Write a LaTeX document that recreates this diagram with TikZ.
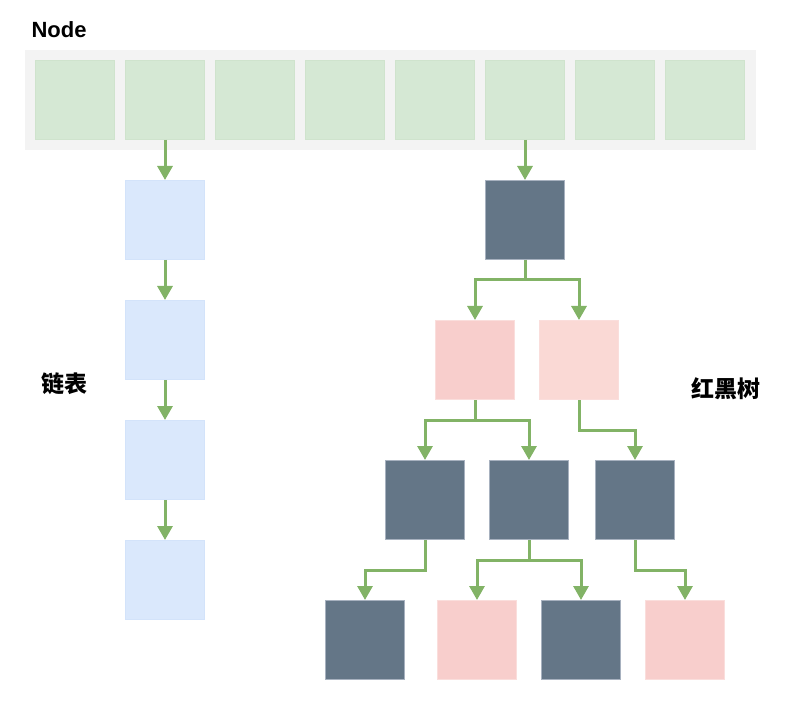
\documentclass[tikz,border=0pt]{standalone}
\usepackage{fontspec}
\setmainfont{Liberation Sans}
\newfontfamily\cjk{Noto Sans CJK SC}
\usetikzlibrary{arrows.meta}
\definecolor{bargray}{HTML}{F3F3F3}
\definecolor{cellgreen}{HTML}{D5E8D4}
\definecolor{cellgreenline}{HTML}{CFE3CD}
\definecolor{listblue}{HTML}{DAE8FC}
\definecolor{listblueline}{HTML}{D3E3FA}
\definecolor{darkslate}{HTML}{647687}
\definecolor{darkslateline}{HTML}{A7B1BF}
\definecolor{redpink}{HTML}{F8CECC}
\definecolor{redpinkline}{HTML}{FADEDC}
\definecolor{lightpink}{HTML}{FAD9D5}
\definecolor{arrowgreen}{HTML}{82B366}
\tikzstyle{cell}=[rectangle,draw=cellgreenline,fill=cellgreen,line width=1pt,minimum size=79pt,inner sep=0pt]
\tikzstyle{listnode}=[rectangle,draw=listblueline,fill=listblue,line width=1pt,minimum size=79pt,inner sep=0pt]
\tikzstyle{blacknode}=[rectangle,draw=darkslateline,fill=darkslate,line width=1pt,minimum size=79pt,inner sep=0pt]
\tikzstyle{rednode}=[rectangle,draw=redpinkline,fill=redpink,line width=1pt,minimum size=79pt,inner sep=0pt]
\tikzstyle{edge} = [draw,arrowgreen,line width=3pt,-{Triangle[width=15pt,length=14pt]}]
\tikzstyle{title} = [font=\bfseries\fontsize{22}{26}\selectfont]
\tikzstyle{cjktitle} = [font=\cjk\bfseries\fontsize{23}{27}\selectfont]

\begin{document}
\begin{tikzpicture}[x=1pt,y=-1pt]
    \useasboundingbox (0,0) rectangle (795,703);
    % The table of Node cells
    \node[title,anchor=west] (nodetitle) at (28,30) {Node};
    \fill[bargray] (25,50) rectangle (756,150);
    \foreach \i in {1,...,8}
        \node[cell] (c\i) at ({75+90*(\i-1)},100) {};

    % The linked list
    \foreach \pos/ \name in {{(165,220)/l1},{(165,340)/l2},{(165,460)/l3},{(165,580)/l4}}
        \node[listnode] (\name) at \pos {};
    \node[cjktitle] (listtitle) at (64,384) {链表};

    \foreach \source/ \dest in {c2/l1, l1/l2, l2/l3, l3/l4}
        \path[edge] (\source.south) -- (\dest.north);

    % The red-black tree
    \foreach \pos/ \name in {{(525,220)/r},{(425,500)/c},{(529,500)/d},{(635,500)/e},{(365,640)/f},{(581,640)/h}}
        \node[blacknode] (\name) at \pos {};
    \foreach \pos/ \name in {{(475,360)/a},{(477,640)/g},{(685,640)/k}}
        \node[rednode] (\name) at \pos {};
    \node[rednode,fill=lightpink] (b) at (579,360) {};
    \node[cjktitle] (treetitle) at (726,389) {红黑树};

    \path[edge] (c6.south) -- (r.north);
    \foreach \source/ \dest/ \drop in {r/a/20, r/b/20, a/c/20, a/d/20, b/e/30, c/f/30, d/g/20, d/h/20, e/k/30}
        \path[edge] (\source.south) -- ++(0,\drop) -| (\dest.north);
\end{tikzpicture}
\end{document}
